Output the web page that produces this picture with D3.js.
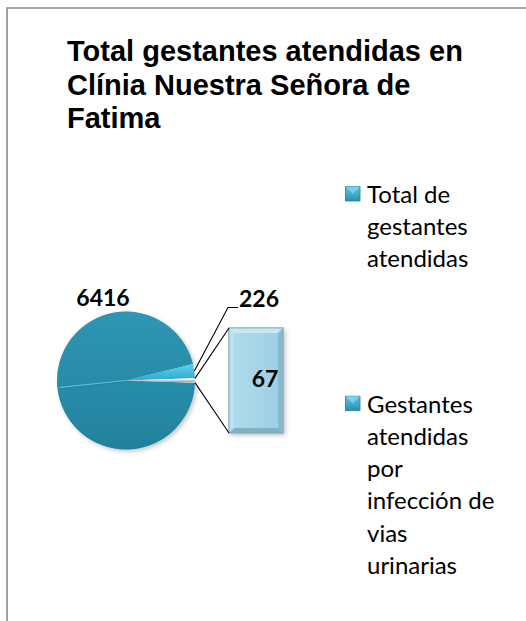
<!DOCTYPE html>
<html>
<head>
<meta charset="utf-8">
<script src="https://cdn.jsdelivr.net/npm/d3@7"></script>
<style>
  html, body { margin: 0; padding: 0; background: #fff; }
  svg { display: block; }
</style>
</head>
<body>
<svg id="chart" width="526" height="621"></svg>
<script>
// ---- data ----
const titleLines = ["Total gestantes atendidas en", "Clínia Nuestra Señora de", "Fatima"];
const categories = ["Total de gestantes atendidas", "Gestantes atendidas por infección de vias urinarias"];
const legendLines = [["Total de", "gestantes", "atendidas"],
                     ["Gestantes", "atendidas", "por", "infección de", "vias", "urinarias"]];
// pie points in drawing order (clockwise): small slice, "other" slice feeding the bar, main slice
const pieNames = ["Gestantes atendidas por infección de vias urinarias", "Otro", "Total de gestantes atendidas"];
const pieValues = [226, 67, 6416];
const pieLabels = ["226", null, "6416"];
const barNames = ["Gestantes atendidas por infección de vias urinarias"];
const barValues = [67];

// ---- layout ----
const svg = d3.select("#chart");
const W = 526, H = 621;
const cx = 126, cy = 380.5, R = 69;
const defs = svg.append("defs");

// border (chart area continues beyond the window on the right and bottom)
svg.append("path")
  .attr("d", `M7,${H + 5} L7,8 L${W + 5},8`)
  .attr("fill", "none").attr("stroke", "#8a8a8a").attr("stroke-width", 1.6);

// title
svg.append("g").selectAll("text").data(titleLines).join("text")
  .attr("x", 67).attr("y", (d, i) => 61 + i * 33.5)
  .attr("font-family", "'Liberation Sans', Arial, sans-serif")
  .attr("font-weight", "bold").attr("font-size", 29).attr("fill", "#000")
  .text(d => d);

// gradients
function lin(id, stops, x2 = 0, y2 = 1) {
  const g = defs.append("linearGradient").attr("id", id)
    .attr("x1", 0).attr("y1", 0).attr("x2", x2).attr("y2", y2);
  stops.forEach(s => g.append("stop").attr("offset", s[0]).attr("stop-color", s[1]));
}
lin("mainUp", [[0, "#3aabca"], [0.6, "#32a0bf"], [1, "#2e9bb9"]]);
lin("mainDn", [[0, "#2f9cba"], [0.6, "#2b94b2"], [1, "#2688a5"]]);
lin("smallG", [[0, "#5fd0ef"], [1, "#2fa9cc"]]);
lin("otherG", [[0, "#ffffff"], [0.45, "#e6e6e6"], [0.6, "#9a9a9a"], [1, "#dcdcdc"]]);
lin("barG", [[0, "#b0dcec"], [1, "#9ccfe2"]], 1, 0);
lin("legG", [[0, "#5cc6e2"], [1, "#2a8fae"]]);
const rimG = defs.append("radialGradient").attr("id", "rim")
  .attr("gradientUnits", "userSpaceOnUse").attr("cx", cx).attr("cy", cy).attr("r", R);
rimG.append("stop").attr("offset", 0.84).attr("stop-color", "#1b6f88").attr("stop-opacity", 0);
rimG.append("stop").attr("offset", 0.96).attr("stop-color", "#1b6f88").attr("stop-opacity", 0.2);
rimG.append("stop").attr("offset", 1).attr("stop-color", "#1b6f88").attr("stop-opacity", 0.35);
const shadow = defs.append("filter").attr("id", "shadow")
  .attr("x", "-20%").attr("y", "-20%").attr("width", "150%").attr("height", "150%");
shadow.append("feDropShadow").attr("dx", 2).attr("dy", 2).attr("stdDeviation", 2)
  .attr("flood-color", "#000").attr("flood-opacity", 0.22);

// pie: the "other" slice is centred on the right (pi/2)
const total = d3.sum(pieValues);
const ang = v => v / total * 2 * Math.PI;
const start = Math.PI / 2 - ang(pieValues[0]) - ang(pieValues[1]) / 2;
const pie = d3.pie().sort(null).value(d => d).startAngle(start).endAngle(start + 2 * Math.PI);
const arcs = pie(pieValues);
const arc = d3.arc().innerRadius(0).outerRadius(R);
const pt = (a, r) => [cx + r * Math.sin(a), cy - r * Math.cos(a)];

const pg = svg.append("g").attr("transform", `translate(${cx},${cy})`).attr("filter", "url(#shadow)");
// main slice drawn as two bevel halves split at its bisector
const main = arcs[2];
const mid = (main.startAngle + main.endAngle) / 2;
pg.append("path").attr("d", arc({ startAngle: main.startAngle, endAngle: mid })).attr("fill", "url(#mainDn)");
pg.append("path").attr("d", arc({ startAngle: mid, endAngle: main.endAngle })).attr("fill", "url(#mainUp)");
pg.append("path").attr("d", arc({ startAngle: main.startAngle, endAngle: main.endAngle })).attr("fill", "url(#rim)");
// bevel crease
const crease = pt(mid, R - 3);
svg.append("line").attr("x1", cx).attr("y1", cy).attr("x2", crease[0]).attr("y2", crease[1])
  .attr("stroke", "#5cc0dc").attr("stroke-width", 1.2);
svg.append("line").attr("x1", cx).attr("y1", cy + 1.3).attr("x2", crease[0]).attr("y2", crease[1] + 1.3)
  .attr("stroke", "#25839f").attr("stroke-width", 1);
// small slices
svg.append("path").attr("transform", `translate(${cx},${cy})`).attr("d", arc(arcs[0])).attr("fill", "url(#smallG)");
svg.append("path").attr("transform", `translate(${cx},${cy})`).attr("d", arc(arcs[1])).attr("fill", "url(#otherG)");

// bar (secondary plot)
const yBar = d3.scaleLinear().domain([0, d3.sum(barValues)]).range([433, 328]);
const xBar = d3.scaleBand().domain(barNames).range([229, 283]);
let cum = 0;
const bars = barValues.map((v, i) => { const b = { name: barNames[i], v, y0: cum, y1: cum + v }; cum += v; return b; });
const bg = svg.append("g");
bars.forEach(b => {
  const x0 = xBar(b.name), x1 = x0 + xBar.bandwidth();
  const top = yBar(b.y1), bot = yBar(b.y0), e = 5;
  bg.append("rect").attr("x", x0).attr("y", top).attr("width", x1 - x0).attr("height", bot - top)
    .attr("fill", "url(#barG)").attr("stroke", "#7fb0c2").attr("stroke-width", 1).attr("filter", "url(#shadow)");
  const poly = (pts, c) => bg.append("polygon").attr("points", pts.map(p => p.join(",")).join(" ")).attr("fill", c);
  poly([[x0, top], [x1, top], [x1 - e, top + e], [x0 + e, top + e]], "#c9e8f3");
  poly([[x0, top], [x0 + e, top + e], [x0 + e, bot - e], [x0, bot]], "#bde2ef");
  poly([[x1, top], [x1, bot], [x1 - e, bot - e], [x1 - e, top + e]], "#86bacd");
  poly([[x0, bot], [x1, bot], [x1 - e, bot - e], [x0 + e, bot - e]], "#7fb2c5");
  bg.append("rect").attr("x", x0).attr("y", top).attr("width", x1 - x0).attr("height", bot - top)
    .attr("fill", "none").attr("stroke", "#7aa9bb").attr("stroke-width", 0.8);
  bg.append("text").attr("x", (x0 + x1) / 2 + 9).attr("y", (top + bot) / 2 + 6)
    .attr("text-anchor", "middle").attr("font-family", "Lato, 'Open Sans', sans-serif")
    .attr("font-weight", "bold").attr("font-size", 23).attr("fill", "#000").text(b.v);
});

// series lines from the "other" slice to the bar
const o = arcs[1];
const pTop = pt(o.startAngle, R), pBot = pt(o.endAngle, R);
const bx = xBar(barNames[0]);
svg.append("line").attr("x1", pTop[0]).attr("y1", pTop[1]).attr("x2", bx).attr("y2", yBar(d3.sum(barValues)))
  .attr("stroke", "#000").attr("stroke-width", 1.1);
svg.append("line").attr("x1", pBot[0]).attr("y1", pBot[1]).attr("x2", bx).attr("y2", yBar(0))
  .attr("stroke", "#000").attr("stroke-width", 1.1);

// data labels
const lblFont = "Lato, 'Open Sans', sans-serif";
const s = arcs[0];
const sMid = (s.startAngle + s.endAngle) / 2;
const pS = pt(sMid, R);
svg.append("polyline")
  .attr("points", [[pS[0], pS[1]], [228, 307.5], [238, 307.5]].map(p => p.join(",")).join(" "))
  .attr("fill", "none").attr("stroke", "#000").attr("stroke-width", 1.1);
svg.append("text").attr("x", 239).attr("y", 306.5).attr("font-family", lblFont)
  .attr("font-weight", "bold").attr("font-size", 23).attr("fill", "#000").text(pieLabels[0]);
svg.append("text").attr("x", cx - 23).attr("y", 306).attr("text-anchor", "middle").attr("font-family", lblFont)
  .attr("font-weight", "bold").attr("font-size", 23).attr("fill", "#000").text(pieLabels[2]);

// legend
const lg = svg.append("g");
const legendTops = [203, 412.7];
legendLines.forEach((lines, i) => {
  const g = lg.append("g").attr("data-name", categories[i]);
  const by = legendTops[i];
  g.append("rect").attr("x", 345.5).attr("y", by - 16.5).attr("width", 14.5).attr("height", 14.5)
    .attr("fill", "url(#legG)").attr("stroke", "#2a7f99").attr("stroke-width", 0.8);
  g.append("polygon").attr("points", `${345.5},${by - 16.5} ${360},${by - 16.5} ${352.75},${by - 9.25}`)
    .attr("fill", "#7fd6ee").attr("opacity", 0.8);
  g.selectAll("text").data(lines).join("text")
    .attr("x", 367).attr("y", (d, j) => by + j * 32.2)
    .attr("font-family", lblFont).attr("font-size", 24).attr("fill", "#000")
    .text(d => d);
});
</script>
</body>
</html>
